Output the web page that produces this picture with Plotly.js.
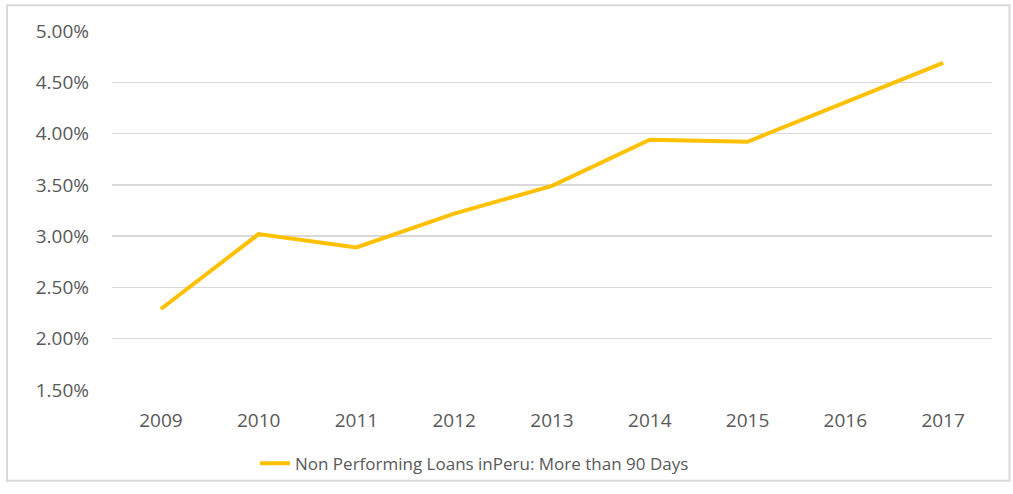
<!DOCTYPE html>
<html>
<head>
<meta charset="utf-8">
<script src="https://cdn.plot.ly/plotly-3.0.1.min.js"></script>
<style>
html,body{margin:0;padding:0;background:#fff;}
#chart{width:1013px;height:494px;}
</style>
</head>
<body>
<div id="chart"></div>
<script>
const years = ['2009','2010','2011','2012','2013','2014','2015','2016','2017'];
const nplValues = [0.0229, 0.0302, 0.0289, 0.0322, 0.0349, 0.0394, 0.0392, 0.0430, 0.0469];
const seriesName = 'Non Performing Loans inPeru: More than 90 Days';
const yTickVals = [0.015, 0.02, 0.025, 0.03, 0.035, 0.04, 0.045, 0.05];

const trace = {
  x: years,
  y: nplValues,
  type: 'scatter',
  mode: 'lines',
  name: seriesName,
  line: {color: '#FFC000', width: 4},
  showlegend: true
};

const layout = {
  width: 1013,
  height: 494,
  margin: {l: 112, r: 21, t: 31, b: 99},
  paper_bgcolor: '#ffffff',
  plot_bgcolor: '#ffffff',
  font: {family: 'Open Sans, sans-serif', size: 19, color: '#595959'},
  showlegend: true,
  legend: {
    orientation: 'h',
    x: 0.1625,
    xanchor: 'left',
    y: -0.205,
    yanchor: 'middle',
    font: {size: 17, color: '#595959'},
    bgcolor: 'rgba(0,0,0,0)'
  },
  xaxis: {
    type: 'category',
    range: [-0.5, 8.5],
    tickvals: years,
    showgrid: false,
    zeroline: false,
    showline: false,
    ticks: '',
    ticklabelstandoff: 17,
    tickfont: {size: 19, color: '#595959'}
  },
  yaxis: {
    range: [0.015, 0.05],
    tickvals: yTickVals,
    tickformat: '.2%',
    showgrid: true,
    gridcolor: '#d9d9d9',
    gridwidth: 1.5,
    zeroline: false,
    showline: false,
    ticks: '',
    ticklabelstandoff: 22,
    tickfont: {size: 19, color: '#595959'}
  },
  shapes: [{
    type: 'rect', xref: 'paper', yref: 'paper',
    x0: -105/880, x1: 1013/880 - 112/880 - 0.004,
    y0: -92/364, y1: 1 + 26/364,
    line: {color: '#d9d9d9', width: 2},
    fillcolor: 'rgba(0,0,0,0)',
    layer: 'below'
  }]
};

Plotly.newPlot('chart', [trace], layout, {displayModeBar: false, staticPlot: true});
</script>
</body>
</html>
